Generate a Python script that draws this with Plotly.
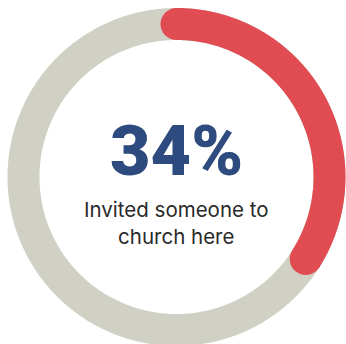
import numpy as np
import plotly.graph_objects as go

# Data
label = "Invited someone to<br>church here"
value = 34          # percent
total = 100

# Styling / geometry
W, H = 346, 344
cx, cy = 176.5, 177.0
r_mid = 153.0
ring_w = 32
grey = "#D0D1C4"
red = "#E04C52"
blue = "#2D4B7E"

def arc(a0, a1, n=400):
    t = np.linspace(a0, a1, n)
    # angle 0 at top, clockwise; y axis reversed (pixel-like)
    return cx + r_mid * np.sin(t), cy - r_mid * np.cos(t)

fig = go.Figure()
gx, gy = arc(0, 2 * np.pi, 720)
fig.add_trace(go.Scatter(x=gx, y=gy, mode="lines",
                         line=dict(color=grey, width=ring_w, simplify=False),
                         hoverinfo="skip", showlegend=False))
end = 2 * np.pi * value / total
rx, ry = arc(0, end)
fig.add_trace(go.Scatter(x=rx, y=ry, mode="lines",
                         line=dict(color=red, width=ring_w, simplify=False),
                         hoverinfo="skip", showlegend=False))
fig.add_trace(go.Scatter(x=[rx[0], rx[-1]], y=[ry[0], ry[-1]], mode="markers",
                         marker=dict(color=red, size=ring_w, line=dict(width=0)),
                         hoverinfo="skip", showlegend=False))

fig.add_annotation(x=cx, y=151, xref="x", yref="y", text=f"{value}%",
                   showarrow=False, xanchor="center", yanchor="middle",
                   font=dict(family="Roboto", size=70, color=blue, weight=900))
fig.add_annotation(x=cx, y=223, xref="x", yref="y", text=label,
                   showarrow=False, xanchor="center", yanchor="middle",
                   font=dict(family="Inter", size=20.5, color="#2a2a2a"))

fig.update_layout(width=W, height=H, margin=dict(l=0, r=0, t=0, b=0),
                  paper_bgcolor="white", plot_bgcolor="white",
                  xaxis=dict(range=[0, W], visible=False, fixedrange=True),
                  yaxis=dict(range=[H, 0], visible=False, fixedrange=True),
                  showlegend=False)
fig.write_html("out.html", config={"displayModeBar": False},
               post_script="document.body.style.margin='0';"
                           "document.body.style.overflow='hidden';")
